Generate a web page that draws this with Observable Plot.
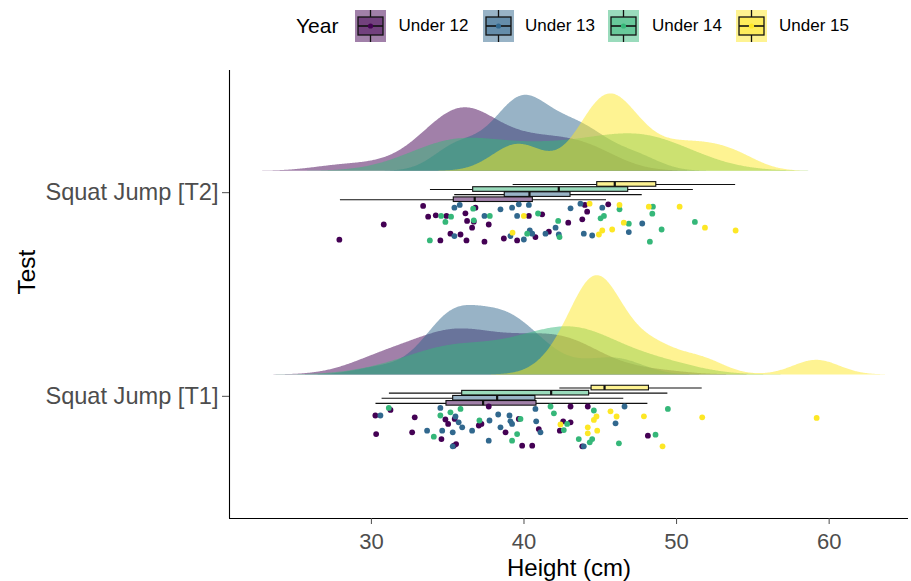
<!DOCTYPE html>
<html><head><meta charset="utf-8">
<script src="https://cdn.jsdelivr.net/npm/d3@7"></script>
<script src="https://cdn.jsdelivr.net/npm/@observablehq/plot@0.6"></script>
<style>
body{margin:0;background:#fff;font-family:"Liberation Sans",Arial,sans-serif;}
#legend{position:relative;height:50px;width:911px;}
#legend .t{position:absolute;white-space:nowrap;color:#000;}
#legend svg{position:absolute;}
#chart svg{font-family:"Liberation Sans",Arial,sans-serif;}
</style></head><body>
<div id="legend"></div>
<div id="chart"></div>
<script>
const years = ["Under 12","Under 13","Under 14","Under 15"];
const colors = ["#440154","#31688E","#35B779","#FDE725"];
const tests = ["Squat Jump [T1]","Squat Jump [T2]"];
const xTicks = [30,40,50,60];

// Heights (cm); jitter = vertical scatter (-1..1)
const t2_u12 = [33.39,30.81,27.90,33.72,34.22,34.92,35.18,35.84,34.52,36.16,36.27,36.71,36.60,36.82,37.69,36.23,37.41,38.68,39.55,40.32,41.19,44.14,43.82,42.90,43.99,45.52,41.63,40.75];
const t2_u12_jit = [-0.84,0.09,0.85,-0.30,-0.37,-0.34,0.55,0.59,0.89,-0.47,-0.09,-0.05,0.25,-0.75,0.09,0.89,0.95,0.79,0.89,-0.34,-0.42,-0.55,-0.17,0,-0.89,-0.92,0.45,0.72];
const t2_u13 = [35.44,35.79,37.41,38.46,39.22,39.66,40.32,39.55,35.44,39.11,39.99,40.38,40.54,43.70,43.05,45.13,42.07,41.41,42.28,43.92,44.47,46.87,47.75];
const t2_u13_jit = [-0.75,-0.89,-0.34,-0.67,-0.75,-0.92,-0.89,-0.34,0.67,0.67,0.84,0.39,0.55,-0.95,-0.72,-0.75,0.25,0.55,0.59,0.55,0.64,0.47,0.04];
const t2_u14 = [36.67,34.57,34.85,35.22,36.71,37.76,33.83,40.21,40.92,42.24,42.33,45.02,45.24,46.26,46.87,48.41,48.45,49.02,51.20,48.25];
const t2_u14_jit = [-0.70,-0.34,-0.04,-0.30,-0.12,-0.34,0.89,0.55,-0.46,-0.09,0.72,-0.22,-0.34,-0.67,0.05,-0.45,-0.80,0.34,-0.04,0.95];
const t2_u15 = [39.99,39.25,44.30,46.26,48.18,50.20,46.54,45.78,45.13,44.91,51.86,53.87];
const t2_u15_jit = [-0.34,0.50,-0.95,-0.89,-0.80,-0.80,0,0.34,0.39,0.59,0.25,0.39];

const t1_u12 = [30.26,31.25,30.31,32.84,32.67,34.85,35.03,35.46,35.40,35.55,34.59,37.69,37.04,37.21,38.79,39.66,39.88,40.54,40.97,43.05,44.18,42.57,43.05,42.35,48.12,43.82];
const t1_u12_jit = [-0.54,-0.82,0.39,-0.45,0.30,-0.34,-0.12,-0.37,0.97,0.89,0.64,-0.99,-0.04,-0.12,0.30,-0.37,0.97,0.97,0.14,-0.99,-0.99,-0.25,-0.20,0.22,0.47,1.0];
const t1_u13 = [30.59,34.52,33.65,34.64,35.33,35.51,35.72,35.95,36.60,37.74,37.69,38.31,38.46,39.05,39.11,39.22,40.75,40.80,35.33,46.59,46.00,41.08,43.92];
const t1_u13_jit = [-0.54,-0.92,0.22,0.22,0.30,-0.49,-0.20,0.05,0.22,-0.29,0.72,-0.59,0.05,-0.54,-0.25,-0.12,-0.87,-0.25,1.0,-0.99,-0.15,0.30,1.0];
const t1_u14 = [31.14,34.52,35.18,35.84,34.09,37.08,39.77,39.55,39.22,41.74,41.96,44.58,42.61,42.83,43.59,44.31,44.47,46.22,48.62,49.43];
const t1_u14_jit = [-0.92,-0.54,-0.70,-0.87,0.52,-0.29,-0.37,0.39,0.72,-0.99,-0.65,-0.79,0.19,-0.12,0.64,0.80,0.64,0.85,0.42,-0.87];
const t1_u15 = [42.39,45.67,46.07,44.58,44.75,44.18,44.18,44.80,47.86,51.68,59.18,49.08];
const t1_u15_jit = [-0.09,-0.75,-0.49,-0.32,-0.49,0.05,0.35,0.22,-0.50,-0.45,-0.42,1.0];

// Boxplot statistics (order: T1 U12..U15, T2 U12..U15)
const boxTest = ["Squat Jump [T1]","Squat Jump [T1]","Squat Jump [T1]","Squat Jump [T1]","Squat Jump [T2]","Squat Jump [T2]","Squat Jump [T2]","Squat Jump [T2]"];
const boxYear = ["Under 12","Under 13","Under 14","Under 15","Under 12","Under 13","Under 14","Under 15"];
const boxLow  = [30.30,30.70,31.18,42.35,27.97,35.46,33.87,39.29];
const boxQ1   = [34.92,35.36,35.95,44.43,35.40,38.74,36.67,44.80];
const boxMed  = [37.32,38.24,41.78,45.28,36.77,40.36,42.28,45.95];
const boxQ3   = [40.82,40.75,44.27,48.19,40.58,43.05,46.83,48.67];
const boxHigh = [48.12,46.54,49.43,51.68,45.41,47.75,51.10,53.87];

const groups = [
  [tests[0], years[0], t1_u12, t1_u12_jit],[tests[0], years[1], t1_u13, t1_u13_jit],
  [tests[0], years[2], t1_u14, t1_u14_jit],[tests[0], years[3], t1_u15, t1_u15_jit],
  [tests[1], years[0], t2_u12, t2_u12_jit],[tests[1], years[1], t2_u13, t2_u13_jit],
  [tests[1], years[2], t2_u14, t2_u14_jit],[tests[1], years[3], t2_u15, t2_u15_jit]
];

const catY = t => tests.indexOf(t) + 1;
const DENS_BASE = 0.105, DENS_K = 3.25;

// Gaussian kernel density, bandwidth bw.nrd0, range extended by 3 bandwidths (R default)
function kde(values) {
  const n = values.length, s = d3.sort(values);
  const sd = d3.deviation(s), iqr = d3.quantile(s, 0.75) - d3.quantile(s, 0.25);
  const bw = 0.9 * Math.min(sd, iqr / 1.34) * Math.pow(n, -0.2);
  const lo = s[0] - 3 * bw, hi = s[n - 1] + 3 * bw, m = 511;
  const out = [];
  for (let i = 0; i <= m; i++) {
    const x = lo + (hi - lo) * i / m;
    let d = 0;
    for (const v of s) { const u = (x - v) / bw; d += Math.exp(-0.5 * u * u); }
    out.push([x, d / (n * bw * Math.sqrt(2 * Math.PI))]);
  }
  return out;
}

const densRows = [];
const pointRows = [];
for (const [test, year, vals, jit] of groups) {
  const c = catY(test);
  for (const [x, d] of kde(vals)) densRows.push({test, year, x, y1: c + DENS_BASE, y2: c + DENS_BASE + d * DENS_K});
  vals.forEach((v, i) => pointRows.push({test, year, v, y: c - (0.1473 + 0.0982 * jit[i])}));
}

const boxRows = boxTest.map((t, i) => {
  const k = years.indexOf(boxYear[i]);
  const cy = catY(t) + 0.003 + (k - 1.5) * 0.025;
  return {test: t, year: boxYear[i], low: boxLow[i], q1: boxQ1[i], med: boxMed[i], q3: boxQ3[i], high: boxHigh[i], cy, b: cy - 0.0113, t: cy + 0.0113};
});

const XMIN = 20.7, XMAX = 65.2, YMIN = 0.4, YMAX = 2.6;

const chart = Plot.plot({
  width: 911, height: 531,
  marginLeft: 229, marginRight: 3, marginTop: 20, marginBottom: 63,
  style: {background: "#fff", fontFamily: "Liberation Sans, Arial, sans-serif"},
  x: {domain: [XMIN, XMAX]},
  y: {domain: [YMIN, YMAX]},
  color: {domain: years, range: colors},
  marks: [
    Plot.areaY(densRows, {x: "x", y1: "y1", y2: "y2", z: d => d.test + d.year, fill: "year", fillOpacity: 0.5, curve: "linear"}),
    Plot.ruleY(boxRows, {y: "cy", x1: "low", x2: "q1", stroke: "#111", strokeWidth: 1.1}),
    Plot.ruleY(boxRows, {y: "cy", x1: "q3", x2: "high", stroke: "#111", strokeWidth: 1.1}),
    Plot.rect(boxRows, {x1: "q1", x2: "q3", y1: "b", y2: "t", fill: "year", fillOpacity: 0.5, stroke: "#111", strokeWidth: 1.1}),
    Plot.ruleX(boxRows, {x: "med", y1: "b", y2: "t", stroke: "#111", strokeWidth: 2.2}),
    Plot.dot(pointRows, {x: "v", y: "y", fill: "year", r: 2.9}),
    Plot.ruleX([XMIN], {stroke: "#000", strokeWidth: 1.1}),
    Plot.ruleY([YMIN], {stroke: "#000", strokeWidth: 1.1}),
    Plot.axisX({ticks: xTicks, tickFormat: d => d, tickSize: 6, tickPadding: 9, fontSize: 22, color: "#4D4D4D", label: null}),
    Plot.axisY({ticks: [1, 2], tickFormat: d => tests[d - 1], tickSize: 7, tickPadding: 4, fontSize: 23.6, color: "#4D4D4D", label: null}),
    Plot.text(["Height (cm)"], {frameAnchor: "bottom", dy: 57, text: d => d, fontSize: 24, fill: "#000"}),
    Plot.text(["Test"], {frameAnchor: "left", dx: -202, rotate: -90, text: d => d, fontSize: 24.4, fill: "#000"})
  ]
});
document.getElementById("chart").appendChild(chart);

// Legend
const legend = document.getElementById("legend");
function addText(txt, left, size) {
  const s = document.createElement("span");
  s.className = "t"; s.textContent = txt;
  s.style.left = left + "px"; s.style.fontSize = size + "px";
  s.style.top = (26 - size * 0.58) + "px";
  legend.appendChild(s);
}
addText("Year", 296, 21);
const swLeft = [355, 482.7, 608, 735.8], lbLeft = [398.5, 525, 652, 779];
years.forEach((y, i) => {
  const ns = "http://www.w3.org/2000/svg";
  const svg = document.createElementNS(ns, "svg");
  svg.setAttribute("width", 31); svg.setAttribute("height", 32);
  svg.style.left = swLeft[i] + "px"; svg.style.top = "10px";
  svg.innerHTML = `<rect x="0" y="0" width="31" height="32" fill="${colors[i]}" fill-opacity="0.5"/>
    <line x1="15.5" x2="15.5" y1="0" y2="7" stroke="#111" stroke-width="1.3"/>
    <line x1="15.5" x2="15.5" y1="25" y2="32" stroke="#111" stroke-width="1.3"/>
    <rect x="3" y="7" width="25" height="18" fill="${colors[i]}" fill-opacity="0.5" stroke="#111" stroke-width="1.3"/>
    <line x1="3" x2="28" y1="16" y2="16" stroke="#111" stroke-width="1.6"/>
    <circle cx="15.5" cy="16" r="2.6" fill="${colors[i]}"/>`;
  legend.appendChild(svg);
  addText(y, lbLeft[i], 17);
});
</script>
</body></html>
